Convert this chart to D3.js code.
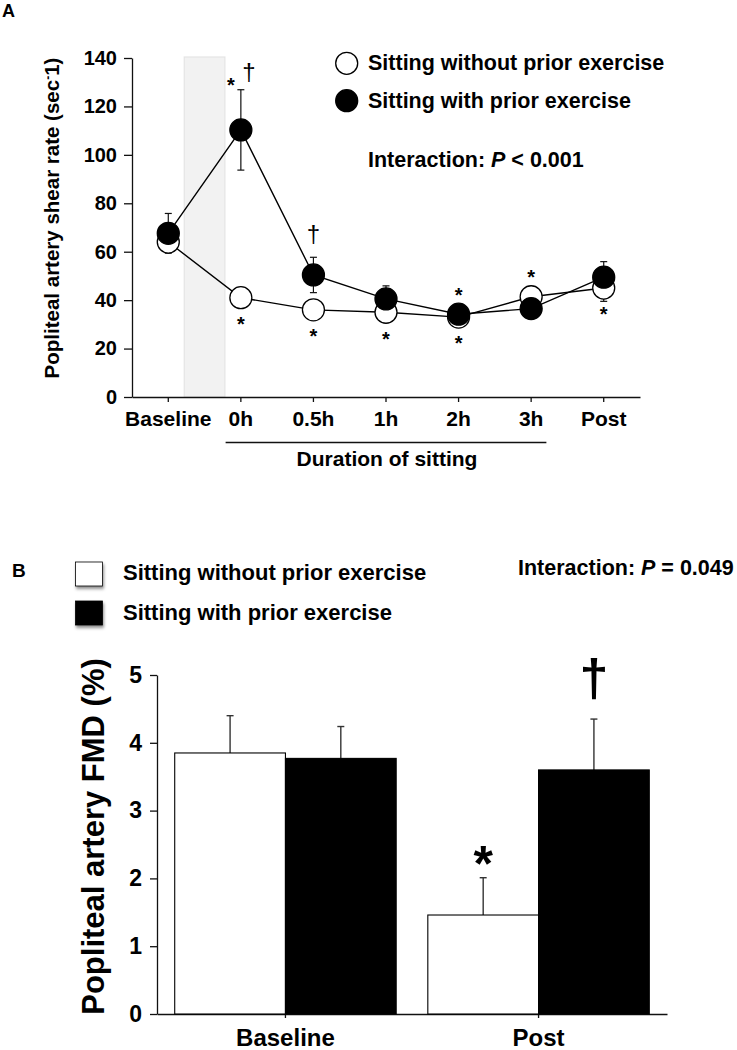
<!DOCTYPE html>
<html>
<head>
<meta charset="utf-8">
<script src="https://cdn.jsdelivr.net/npm/d3@7"></script>
<style>
  html, body { margin: 0; padding: 0; background: #fff; }
  svg { display: block; font-family: "Liberation Sans", Arial, sans-serif; }
  .axis path, .axis line { stroke: #111; stroke-width: 1.3; }
  .axis text { fill: #000; font-weight: bold; font-family: "Liberation Sans", Arial, sans-serif; }
</style>
</head>
<body>
<svg id="chart" width="737" height="1050"></svg>
<script>
// ---------------- Data: Panel A ----------------
const categoriesA = ["Baseline", "0h", "0.5h", "1h", "2h", "3h", "Post"];
const yTicksA = [0, 20, 40, 60, 80, 100, 120, 140];
const shearWithout = [64, 41, 36, 35, 33, 41.4, 45];
const shearWithoutErr = [4, 3, 3, 3, 3, 3, 5.5];
const shearWith = [67.6, 110.3, 50.4, 40.5, 34.2, 36.5, 49.5];
const shearWithErr = [8.2, 16.6, 7.3, 5.4, 3, 3, 6.4];
const seriesNames = ["Sitting without prior exercise", "Sitting with prior exercise"];
const sigA = [
  { cat: "0h",   series: "with",    mark: "*", side: "above" },
  { cat: "0h",   series: "with",    mark: "†", side: "above" },
  { cat: "0h",   series: "without", mark: "*", side: "below" },
  { cat: "0.5h", series: "with",    mark: "†", side: "above" },
  { cat: "0.5h", series: "without", mark: "*", side: "below" },
  { cat: "1h",   series: "without", mark: "*", side: "below" },
  { cat: "2h",   series: "with",    mark: "*", side: "above" },
  { cat: "2h",   series: "without", mark: "*", side: "below" },
  { cat: "3h",   series: "without", mark: "*", side: "above" },
  { cat: "Post", series: "without", mark: "*", side: "below" }
];

// ---------------- Data: Panel B ----------------
const categoriesB = ["Baseline", "Post"];
const yTicksB = [0, 1, 2, 3, 4, 5];
const fmdWithout = [3.85, 1.46];
const fmdWithoutErr = [0.55, 0.55];
const fmdWith = [3.77, 3.60];
const fmdWithErr = [0.47, 0.75];
const sigB = [
  { cat: "Post", series: "without", mark: "*" },
  { cat: "Post", series: "with",    mark: "†" }
];

const svg = d3.select("#chart");

// ================= PANEL A =================
const xA = d3.scaleBand().domain(categoriesA).range([132, 640]).padding(0);
const yA = d3.scaleLinear().domain([0, 140]).range([397, 58]);
const cx = c => xA(c) + xA.bandwidth() / 2;
const R = 11;

svg.append("text").attr("x", 2).attr("y", 16.5).attr("font-size", 18).attr("font-weight", "bold").text("A");

// shaded exercise period between Baseline and 0h
const step = xA.step();
const midShade = (cx("Baseline") + cx("0h")) / 2;
svg.append("rect")
  .attr("x", midShade - 0.28 * step).attr("width", 0.56 * step)
  .attr("y", yA(140) - 1).attr("height", yA(0) - yA(140) + 1)
  .attr("fill", "#f2f2f2").attr("stroke", "#e4e4e4").attr("stroke-width", 1.2);

// axes
const axA_y = svg.append("g").attr("class", "axis").attr("transform", "translate(132,0)")
  .call(d3.axisLeft(yA).tickValues(yTicksA).tickSize(8).tickSizeOuter(0).tickPadding(7));
axA_y.selectAll("text").attr("font-size", 20);

const axA_x = svg.append("g").attr("class", "axis").attr("transform", "translate(0,397)")
  .call(d3.axisBottom(xA).tickSize(5).tickSizeOuter(0));
axA_x.selectAll("text").attr("font-size", 21).attr("y", 29).attr("dy", 0);

// y label A
const ylabA = svg.append("text")
  .attr("transform", "translate(58.5,218) rotate(-90)")
  .attr("text-anchor", "middle").attr("font-size", 20.5).attr("font-weight", "bold");
ylabA.append("tspan").text("Popliteal artery shear rate (sec");
ylabA.append("tspan").attr("font-size", 12).attr("dy", -7).text("-");
ylabA.append("tspan").attr("dy", 7).text("1)");

// duration of sitting
const dStart = cx("0h") - 0.21 * step, dEnd = cx("3h") + 0.21 * step;
svg.append("line").attr("x1", dStart).attr("x2", dEnd).attr("y1", 442.5).attr("y2", 442.5)
  .attr("stroke", "#111").attr("stroke-width", 1.5);
svg.append("text").attr("x", (cx("0h") + cx("3h")) / 2 + 1).attr("y", 465.5)
  .attr("text-anchor", "middle").attr("font-size", 21).attr("font-weight", "bold")
  .text("Duration of sitting");

// data
const dataA = {
  without: categoriesA.map((c, i) => ({ c, v: shearWithout[i], e: shearWithoutErr[i] })),
  with: categoriesA.map((c, i) => ({ c, v: shearWith[i], e: shearWithErr[i] }))
};

// error bars (behind all circles)
["without", "with"].forEach(s => {
  const g = svg.append("g").attr("stroke", "#111").attr("stroke-width", 1.2);
  dataA[s].forEach(d => {
    const x = cx(d.c), y1 = yA(d.v + d.e), y2 = yA(d.v - d.e);
    g.append("line").attr("x1", x).attr("x2", x).attr("y1", y1).attr("y2", y2);
    g.append("line").attr("x1", x - 3.5).attr("x2", x + 3.5).attr("y1", y1).attr("y2", y1);
    g.append("line").attr("x1", x - 3.5).attr("x2", x + 3.5).attr("y1", y2).attr("y2", y2);
  });
});

const line = d3.line().x(d => cx(d.c)).y(d => yA(d.v));
["without", "with"].forEach(s => {
  svg.append("path").datum(dataA[s]).attr("d", line)
    .attr("fill", "none").attr("stroke", "#000").attr("stroke-width", 1.4);
  svg.append("g").selectAll("circle").data(dataA[s]).join("circle")
    .attr("cx", d => cx(d.c)).attr("cy", d => yA(d.v)).attr("r", R)
    .attr("fill", s === "with" ? "#000" : "#fff")
    .attr("stroke", "#000").attr("stroke-width", 1.3);
});

// significance marks A
const groups = d3.group(sigA, d => d.cat + "|" + d.side);
groups.forEach(arr => {
  arr.forEach((m, k) => {
    const i = categoriesA.indexOf(m.cat);
    const v = m.series === "with" ? shearWith[i] : shearWithout[i];
    const e = m.series === "with" ? shearWithErr[i] : shearWithoutErr[i];
    let x = cx(m.cat);
    if (arr.length > 1) x += (k === 0 ? -10 : 8);
    const isDag = m.mark === "†";
    const fs = isDag ? 24 : 20;
    let yb;
    if (m.side === "above") {
      const top = Math.min(yA(v + e), yA(v) - R);
      const gap = (m.cat === "0h") ? 6 : (isDag ? 12 : 10);
      const bottom = top - gap;
      yb = isDag ? bottom - 0.14 * fs : bottom + 0.42 * fs;
    } else {
      const topG = yA(v) + R + 8;
      yb = topG + 0.72 * fs;
    }
    svg.append("text").attr("x", x).attr("y", yb).attr("text-anchor", "middle")
      .attr("font-size", fs).attr("font-weight", isDag ? "normal" : "bold").text(m.mark);
  });
});

// legend A
const legA = svg.append("g");
seriesNames.forEach((n, i) => {
  const y = [63.3, 100.7][i];
  legA.append("circle").attr("cx", 346.7).attr("cy", y).attr("r", R)
    .attr("fill", i === 1 ? "#000" : "#fff").attr("stroke", "#000").attr("stroke-width", 1.3);
  legA.append("text").attr("x", 368).attr("y", y + 6.8).attr("font-size", 21.5)
    .attr("font-weight", "bold").text(n);
});
const intA = svg.append("text").attr("x", 368).attr("y", 166.5).attr("font-size", 21.5).attr("font-weight", "bold");
intA.append("tspan").text("Interaction: ");
intA.append("tspan").attr("font-style", "italic").text("P");
intA.append("tspan").text(" < 0.001");

// ================= PANEL B =================
const xB = d3.scaleBand().domain(categoriesB).range([157, 667]).paddingInner(0.125).paddingOuter(0.07);
const xBin = d3.scaleBand().domain(["without", "with"]).range([0, xB.bandwidth()]).padding(0);
const yB = d3.scaleLinear().domain([0, 5]).range([1014, 675]);

svg.append("text").attr("x", 12).attr("y", 577).attr("font-size", 19).attr("font-weight", "bold").text("B");

// legend B with drop shadow
const defs = svg.append("defs");
const f = defs.append("filter").attr("id", "shadow").attr("x", "-30%").attr("y", "-30%").attr("width", "160%").attr("height", "170%");
f.append("feDropShadow").attr("dx", 1).attr("dy", 2.5).attr("stdDeviation", 1.6).attr("flood-color", "#000").attr("flood-opacity", 0.45);

seriesNames.forEach((n, i) => {
  const y = [562, 601][i];
  svg.append("rect").attr("x", 75.5).attr("y", y).attr("width", 27).attr("height", 24)
    .attr("fill", i === 1 ? "#000" : "#fff").attr("stroke", "#000").attr("stroke-width", 0.8)
    .attr("filter", "url(#shadow)");
  svg.append("text").attr("x", 123).attr("y", [580, 620][i]).attr("font-size", 22)
    .attr("font-weight", "bold").text(n);
});
const intB = svg.append("text").attr("x", 518).attr("y", 575).attr("font-size", 21.5).attr("font-weight", "bold");
intB.append("tspan").text("Interaction: ");
intB.append("tspan").attr("font-style", "italic").text("P");
intB.append("tspan").text(" = 0.049");

// axes B
const axB_y = svg.append("g").attr("class", "axis").attr("transform", "translate(157,0)")
  .call(d3.axisLeft(yB).tickValues(yTicksB).tickFormat(d3.format("d")).tickSize(7).tickSizeOuter(0).tickPadding(8));
axB_y.selectAll("text").attr("font-size", 23);

const axB_x = svg.append("g").attr("class", "axis").attr("transform", "translate(0,1014)")
  .call(d3.axisBottom(xB).tickSize(4).tickSizeOuter(0));
axB_x.selectAll("text").attr("font-size", 24).attr("y", 32).attr("dy", 0);

svg.append("text")
  .attr("transform", "translate(103.5,836.5) rotate(-90)")
  .attr("text-anchor", "middle").attr("font-size", 31).attr("font-weight", "bold")
  .text("Popliteal artery FMD (%)");

// bars
const barData = [];
categoriesB.forEach((c, i) => {
  barData.push({ c, s: "without", v: fmdWithout[i], e: fmdWithoutErr[i] });
  barData.push({ c, s: "with", v: fmdWith[i], e: fmdWithErr[i] });
});
// error bars
const ebB = svg.append("g").attr("stroke", "#333").attr("stroke-width", 1.4);
barData.forEach(d => {
  const x = xB(d.c) + xBin(d.s) + xBin.bandwidth() / 2;
  ebB.append("line").attr("x1", x).attr("x2", x).attr("y1", yB(d.v)).attr("y2", yB(d.v + d.e));
  ebB.append("line").attr("x1", x - 3.5).attr("x2", x + 3.5).attr("y1", yB(d.v + d.e)).attr("y2", yB(d.v + d.e));
});
svg.append("g").selectAll("rect").data(barData).join("rect")
  .attr("x", d => xB(d.c) + xBin(d.s))
  .attr("y", d => yB(d.v))
  .attr("width", xBin.bandwidth())
  .attr("height", d => yB(0) - yB(d.v))
  .attr("fill", d => d.s === "with" ? "#000" : "#fff")
  .attr("stroke", "#000").attr("stroke-width", 1.1);

// significance marks B
sigB.forEach(m => {
  const i = categoriesB.indexOf(m.cat);
  const v = m.series === "with" ? fmdWith[i] : fmdWithout[i];
  const e = m.series === "with" ? fmdWithErr[i] : fmdWithoutErr[i];
  const x = xB(m.cat) + xBin(m.series) + xBin.bandwidth() / 2;
  const bottom = yB(v + e) - 16;
  const isDag = m.mark === "†";
  const fs = isDag ? 52 : 50;
  const yb = isDag ? bottom - 0.14 * fs : bottom + 0.38 * fs;
  svg.append("text").attr("x", x).attr("y", yb).attr("text-anchor", "middle")
    .attr("font-size", fs).attr("font-weight", "bold").text(m.mark);
});
</script>
</body>
</html>
